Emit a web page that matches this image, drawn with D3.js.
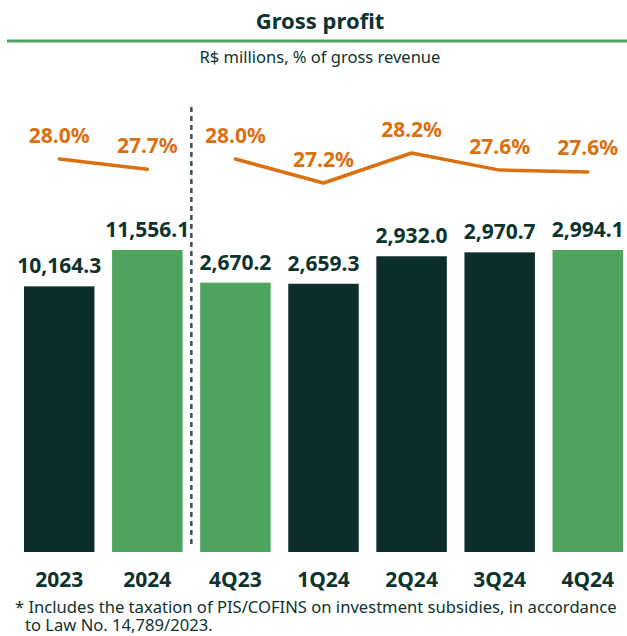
<!DOCTYPE html>
<html>
<head>
<meta charset="utf-8">
<script src="https://cdn.jsdelivr.net/npm/d3@7"></script>
<style>
  body { margin: 0; background: #fff; }
  text { font-family: "Noto Sans", sans-serif; }
</style>
</head>
<body>
<div id="chart"></div>
<script>
const width = 627;
const height = 636;
const categories = ['2023', '2024', '4Q23', '1Q24', '2Q24', '3Q24', '4Q24'];
const groups = ['year', 'year', 'quarter', 'quarter', 'quarter', 'quarter', 'quarter'];
const grossProfit = [10164.3, 11556.1, 2670.2, 2659.3, 2932.0, 2970.7, 2994.1];
const margins = [28.0, 27.66, 28.0, 27.2, 28.2, 27.63, 27.57];
const highlight = [false, true, true, false, false, false, true];

const colors = {'dark':'#0b2e2b', 'green':'#4ea35d', 'orange':'#d97012', 'text':'#0d332e', 'dash':'#34524f'};
const baseline = 552;
const barTop = 250;

var svg = d3.select('#chart')
  .append('svg')
  .attr('width', width)
  .attr('height', height);

var x = d3.scaleBand()
  .domain(categories)
  .range([24, 623])
  .paddingInner(0.2)
  .paddingOuter(0);

// annual and quarterly bars each get their own scale
var yBar = {};
['year', 'quarter'].forEach(g => {
  let vals = grossProfit.filter((v, i) => groups[i] == g);
  yBar[g] = d3.scaleLinear().domain([0, d3.max(vals)]).range([baseline, barTop]);
});

var yPct = d3.scaleLinear().domain([27, 28.5]).range([189, 144]);

var data = categories.map((c, i) => ({'cat':c, 'group':groups[i], 'value':grossProfit[i], 'pct':margins[i], 'hl':highlight[i]}));

// title
svg.append('text')
  .attr('x', 320).attr('y', 29)
  .attr('text-anchor', 'middle')
  .style('font-size', '22px').style('font-weight', '700')
  .attr('fill', colors.text)
  .text('Gross profit');

svg.append('line')
  .attr('x1', 7).attr('x2', width)
  .attr('y1', 41).attr('y2', 41)
  .attr('stroke', colors.green).attr('stroke-width', 3);

svg.append('text')
  .attr('x', 320).attr('y', 63)
  .attr('text-anchor', 'middle')
  .style('font-size', '16.5px')
  .attr('fill', colors.text)
  .text('R$ millions, % of gross revenue');

// separator between years and quarters
var sepX = (x('2024') + x.bandwidth() + x('4Q23')) / 2;
svg.append('line')
  .attr('x1', sepX).attr('x2', sepX)
  .attr('y1', 107).attr('y2', 547)
  .attr('stroke', colors.dash).attr('stroke-width', 2.5)
  .attr('stroke-dasharray', '5,4');

// bars
svg.selectAll('.bar')
  .data(data)
  .enter().append('rect')
  .attr('class', 'bar')
  .attr('x', d => x(d.cat))
  .attr('y', d => yBar[d.group](d.value))
  .attr('width', x.bandwidth())
  .attr('height', d => baseline - yBar[d.group](d.value))
  .attr('fill', d => d.hl ? colors.green : colors.dark);

svg.selectAll('.val')
  .data(data)
  .enter().append('text')
  .attr('class', 'val')
  .attr('x', d => x(d.cat) + x.bandwidth() / 2)
  .attr('y', d => yBar[d.group](d.value) - 13)
  .attr('text-anchor', 'middle')
  .style('font-size', '21px').style('font-weight', '700')
  .attr('fill', colors.text)
  .text(d => d3.format(',.1f')(d.value));

// margin lines
var line = d3.line()
  .x(d => x(d.cat) + x.bandwidth() / 2)
  .y(d => yPct(d.pct));

['year', 'quarter'].forEach(g => {
  svg.append('path')
    .datum(data.filter(d => d.group == g))
    .attr('d', line)
    .attr('fill', 'none')
    .attr('stroke', colors.orange)
    .attr('stroke-width', 3.5)
    .attr('stroke-linecap', 'round')
    .attr('stroke-linejoin', 'round');
});

svg.selectAll('.pct')
  .data(data)
  .enter().append('text')
  .attr('class', 'pct')
  .attr('x', d => x(d.cat) + x.bandwidth() / 2)
  .attr('y', d => yPct(d.pct) - 16.5)
  .attr('text-anchor', 'middle')
  .style('font-size', '21px').style('font-weight', '700')
  .attr('fill', colors.orange)
  .text(d => d.pct.toFixed(1) + '%');

// category labels
svg.selectAll('.cat')
  .data(data)
  .enter().append('text')
  .attr('class', 'cat')
  .attr('x', d => x(d.cat) + x.bandwidth() / 2)
  .attr('y', 587)
  .attr('text-anchor', 'middle')
  .style('font-size', '21px').style('font-weight', '700')
  .attr('fill', colors.text)
  .text(d => d.cat);

// footnote
var note = svg.append('text')
  .style('font-size', '16.6px')
  .attr('fill', colors.text);
note.append('tspan').attr('x', 15).attr('y', 613)
  .text('* Includes the taxation of PIS/COFINS on investment subsidies, in accordance');
note.append('tspan').attr('x', 25).attr('y', 631)
  .text('to Law No. 14,789/2023.');
</script>
</body>
</html>
